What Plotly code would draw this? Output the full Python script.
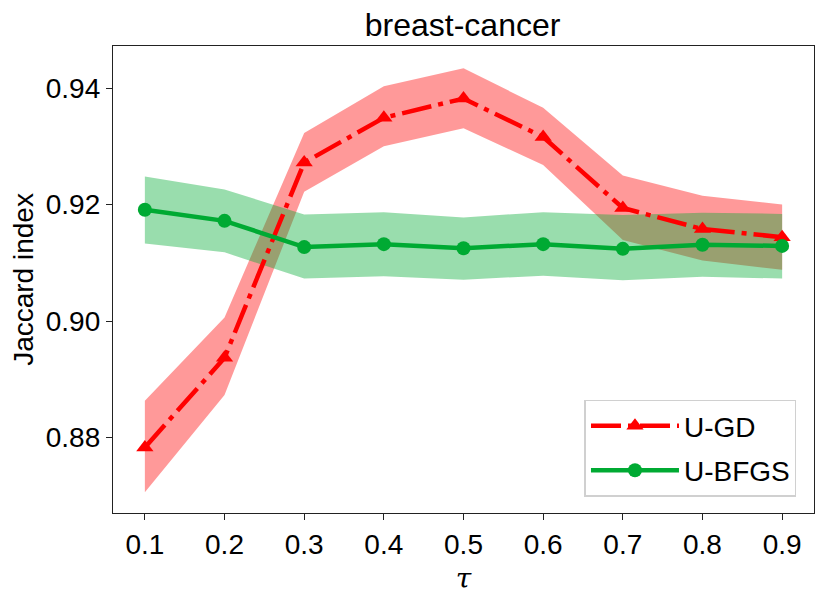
import plotly.graph_objects as go

tau = [0.1, 0.2, 0.3, 0.4, 0.5, 0.6, 0.7, 0.8, 0.9]

gd_mean = [0.8783, 0.8937, 0.9272, 0.9349, 0.9382, 0.9316, 0.9194, 0.9158, 0.9144]
gd_upper = [0.8863, 0.9006, 0.9323, 0.9403, 0.9434, 0.9366, 0.9250, 0.9215, 0.9200]
gd_lower = [0.8706, 0.8873, 0.9222, 0.9300, 0.9331, 0.9268, 0.9139, 0.9104, 0.9088]

bfgs_mean = [0.9191, 0.9172, 0.9127, 0.9132, 0.9125, 0.9132, 0.9124, 0.9131, 0.9129]
bfgs_upper = [0.9248, 0.9226, 0.9183, 0.9187, 0.9178, 0.9187, 0.9182, 0.9186, 0.9184]
bfgs_lower = [0.9133, 0.9118, 0.9073, 0.9077, 0.9071, 0.9078, 0.9070, 0.9076, 0.9073]

x_ticks = [0.1, 0.2, 0.3, 0.4, 0.5, 0.6, 0.7, 0.8, 0.9]
x_ticklabels = ["0.1", "0.2", "0.3", "0.4", "0.5", "0.6", "0.7", "0.8", "0.9"]
y_ticks = [0.88, 0.90, 0.92, 0.94]
y_ticklabels = ["0.88", "0.90", "0.92", "0.94"]

RED = "#ff0000"
GREEN = "#00aa33"
FONT = "Liberation Sans"

fig = go.Figure()

# bands
fig.add_trace(go.Scatter(
    x=tau + tau[::-1], y=gd_upper + gd_lower[::-1],
    fill="toself", fillcolor="rgba(255,0,0,0.4)", line=dict(width=0),
    mode="lines", hoverinfo="skip", showlegend=False))
fig.add_trace(go.Scatter(
    x=tau + tau[::-1], y=bfgs_upper + bfgs_lower[::-1],
    fill="toself", fillcolor="rgba(0,170,51,0.4)", line=dict(width=0),
    mode="lines", hoverinfo="skip", showlegend=False))

# lines
fig.add_trace(go.Scatter(
    x=tau, y=gd_mean, name="U-GD", mode="lines+markers", legendgroup="a",
    line=dict(color=RED, width=4.5, dash="30px,7px,5px,7px"),
    marker=dict(symbol="triangle-up", size=15, color=RED)))
fig.add_trace(go.Scatter(
    x=tau, y=bfgs_mean, name="U-BFGS", mode="lines+markers", legendgroup="b",
    line=dict(color=GREEN, width=4.5),
    marker=dict(symbol="circle", size=14, color=GREEN)))

fig.update_layout(
    width=831, height=602,
    margin=dict(l=105, r=25, t=38, b=97, autoexpand=False),
    paper_bgcolor="white", plot_bgcolor="white",
    font=dict(family=FONT, size=28, color="black"),
    title=dict(text="breast-cancer", x=0.547, xanchor="center",
               y=0.953, yanchor="bottom", font=dict(size=32)),
    legend=dict(x=0.975, y=0.035, xanchor="right", yanchor="bottom",
                bgcolor="white", bordercolor="#d0d0d0", borderwidth=1.5,
                font=dict(size=28), itemwidth=88, tracegroupgap=5),
    showlegend=True,
)
fig.update_xaxes(
    range=[0.06, 0.94], tickvals=x_ticks, ticktext=x_ticklabels,
    showline=True, linecolor="#222", linewidth=1.3, mirror=True, automargin=False,
    ticks="outside", ticklen=6, tickcolor="#222", showgrid=False, zeroline=False,
    title=dict(text="<i>τ</i>", font=dict(size=28, family="DejaVu Serif"), standoff=9))
fig.update_yaxes(
    range=[0.86705, 0.94722], tickvals=y_ticks, ticktext=y_ticklabels,
    showline=True, linecolor="#222", linewidth=1.3, mirror=True, automargin=False,
    ticks="outside", ticklen=6, tickcolor="#222", showgrid=False, zeroline=False,
    title=dict(text="Jaccard index", font=dict(size=28), standoff=4))

fig.write_html("out.html")
